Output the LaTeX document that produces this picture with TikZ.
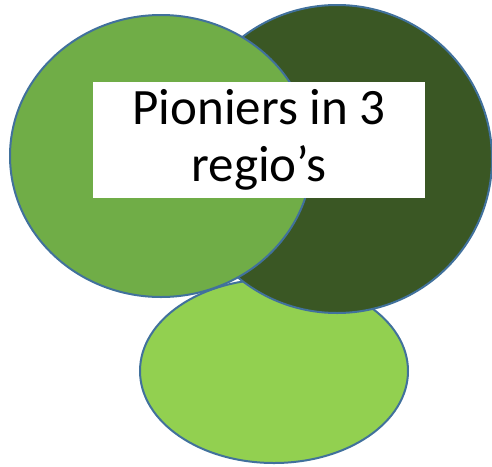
\documentclass[tikz,border=0pt]{standalone}
\usepackage{fontspec}
\setmainfont{Carlito}
\usetikzlibrary{shapes.geometric}
\definecolor{regiolight}{HTML}{92D050}
\definecolor{regiomid}{HTML}{70AD47}
\definecolor{regiodark}{HTML}{3A5724}
\definecolor{regioline}{HTML}{41719C}

\begin{document}
\begin{tikzpicture}[x=1pt,y=-1pt,
            regio/.style={ellipse,draw=regioline,line width=2pt,inner sep=0pt},
            label/.style={fill=white,minimum width=332pt,minimum height=116pt,
                          align=center,inner sep=0pt,
                          font=\fontsize{51}{57}\selectfont}]
        \useasboundingbox (0,0) rectangle (492,466);
        \node[regio,fill=regiolight,minimum width=268pt,minimum height=184pt] (zuid) at (274,371) {};
        \node[regio,fill=regiodark,minimum width=310pt,minimum height=308pt] (oost) at (337,159) {};
        \node[regio,fill=regiomid,minimum width=302pt,minimum height=282pt] (west) at (161,156) {};
        \node[label] (titel) at (259,140) {Pioniers in 3\\regio’s};
        \end{tikzpicture}
\end{document}
